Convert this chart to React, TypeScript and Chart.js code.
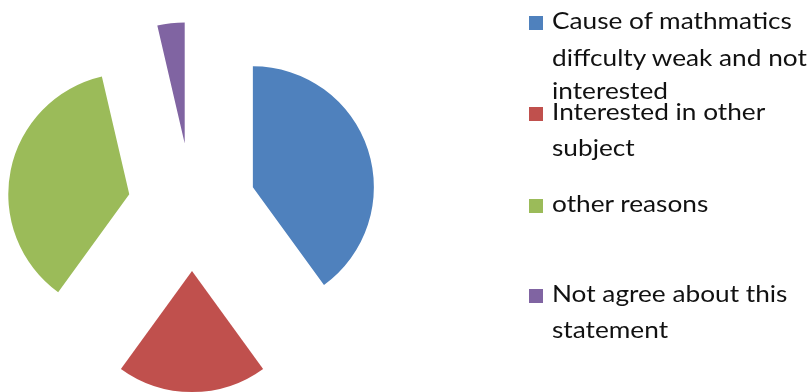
import React, { useEffect, useRef } from "react";
import { Chart, registerables } from "chart.js";

Chart.register(...registerables);

const categories = [
  "Cause of mathmatics diffculty weak and not interested",
  "Interested in other subject",
  "other reasons",
  "Not agree about this statement",
];
const legendLines = [
  ["Cause of mathmatics", "diffculty weak and not", "interested"],
  ["Interested in other", "subject"],
  ["other reasons"],
  ["Not agree about this", "statement"],
];
const values = [22, 11, 20, 2];
const colors = ["#4F81BD", "#C0504D", "#9BBB59", "#8064A2"];

// baselines of each legend line (px)
const lineBaselines = [
  [29.5, 66, 99.5],
  [120.8, 156.8],
  [212.7],
  [302.7, 338.3],
];

const EXPLODE = 64;
const FONT_SIZE = 23;
const STRETCH = 1.14;
const FONT = "Lato, 'Open Sans', sans-serif";

const explodePlugin = {
  id: "explode",
  afterDatasetsUpdate(chart: any) {
    const meta = chart.getDatasetMeta(0);
    meta.data.forEach((arc: any) => {
      const mid = (arc.startAngle + arc.endAngle) / 2;
      arc.x += Math.cos(mid) * EXPLODE;
      arc.y += Math.sin(mid) * EXPLODE;
    });
  },
};

export default function App() {
  const ref = useRef<HTMLCanvasElement | null>(null);

  useEffect(() => {
    if (!ref.current) return;
    const chart = new Chart(ref.current, {
      type: "pie",
      data: {
        labels: categories,
        datasets: [
          {
            data: values,
            backgroundColor: colors,
            borderWidth: 0,
            radius: 121,
          } as any,
        ],
      },
      options: {
        responsive: false,
        animation: false,
        events: [],
        layout: { padding: { left: 0, top: 22, right: 426, bottom: 0 } },
        plugins: {
          legend: { display: false },
          tooltip: { enabled: false },
        },
      },
      plugins: [explodePlugin],
    });
    return () => chart.destroy();
  }, []);

  const ascentFactor = 0.887;

  return (
    <div
      style={{
        position: "fixed",
        left: 0,
        top: 0,
        width: 810,
        height: 392,
        background: "#ffffff",
        overflow: "hidden",
      }}
    >
      <canvas
        ref={ref}
        width={810}
        height={392}
        style={{ position: "absolute", left: 0, top: 0, width: 810, height: 392 }}
      />
      {legendLines.map((lines, i) => (
        <React.Fragment key={i}>
          <div
            style={{
              position: "absolute",
              left: 528.5,
              top: lineBaselines[i][0] - 14,
              width: 14.5,
              height: 14,
              background: colors[i],
            }}
          />
          {lines.map((t, j) => (
            <div
              key={j}
              style={{
                position: "absolute",
                left: 552,
                top: lineBaselines[i][j] - FONT_SIZE * ascentFactor,
                fontFamily: FONT,
                fontSize: FONT_SIZE,
                lineHeight: `${FONT_SIZE}px`,
                whiteSpace: "nowrap",
                color: "#111111",
                transform: `scaleX(${STRETCH})`,
                transformOrigin: "0 0",
              }}
            >
              {t}
            </div>
          ))}
        </React.Fragment>
      ))}
    </div>
  );
}
